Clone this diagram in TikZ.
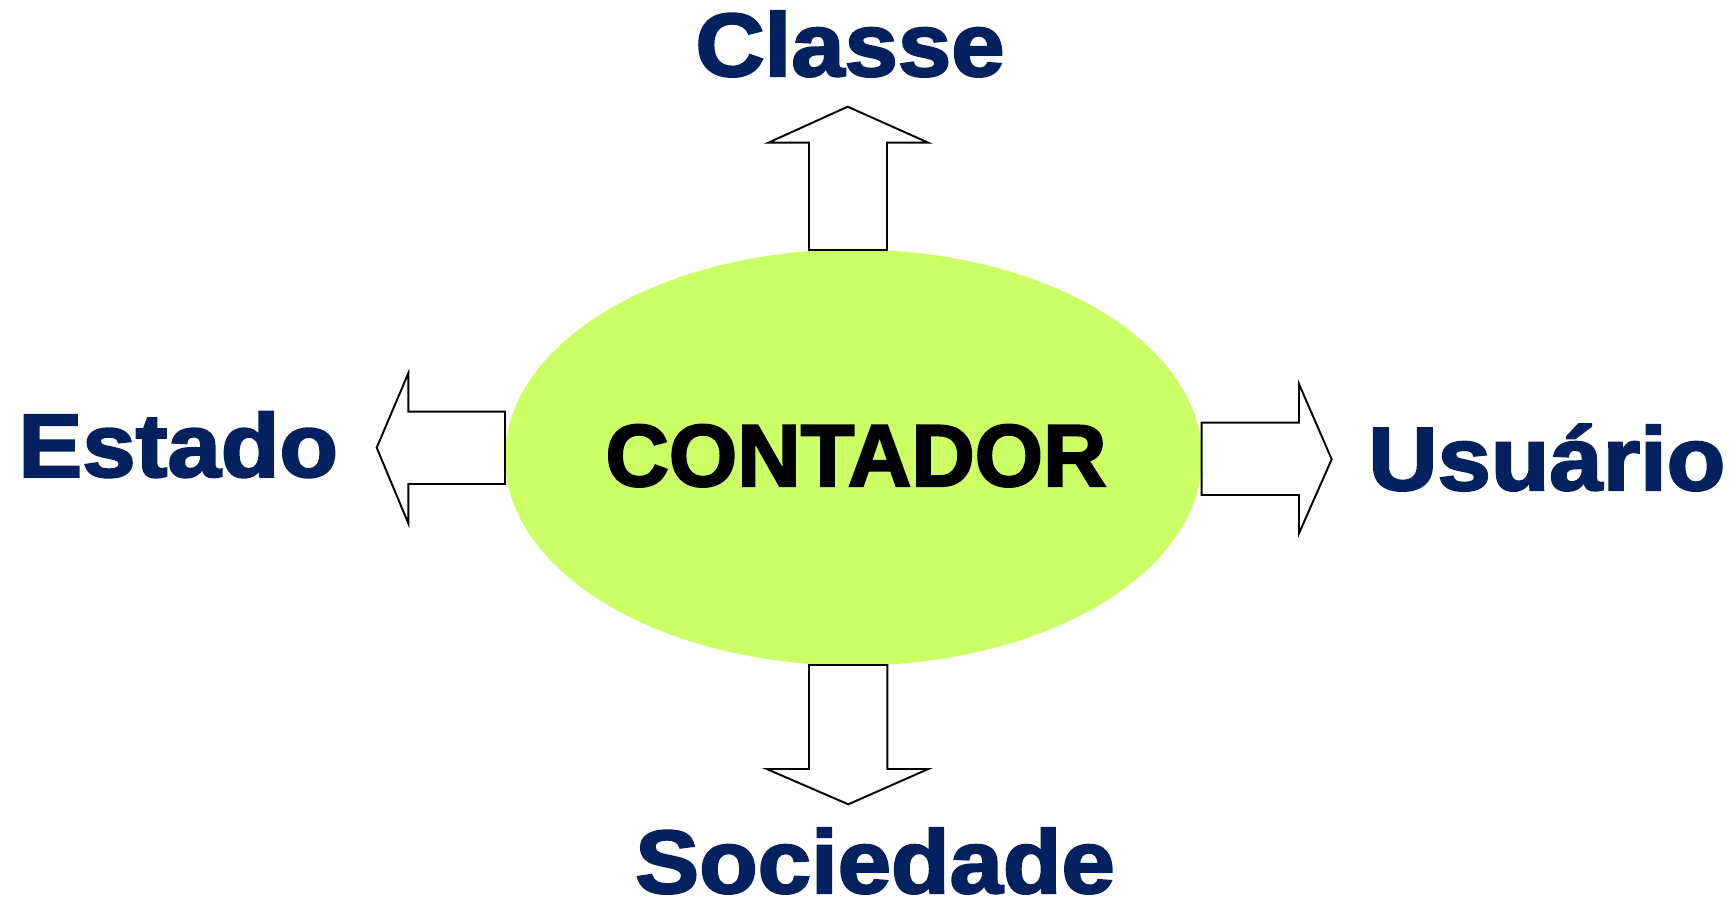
\documentclass[tikz,border=0pt]{standalone}
\usepackage{fontspec}
\newfontfamily\heavy[FakeBold=2.5,FakeStretch=1.07]{Liberation Sans Bold}
\newfontfamily\heavyc[FakeBold=2.5]{Liberation Sans Bold}
\definecolor{navy}{HTML}{03215E}
\definecolor{lime}{HTML}{CCFF66}
\tikzset{
  lbl/.style={inner sep=0pt, anchor=base, text=navy, font=\heavy\fontsize{51}{51}\selectfont},
  blockarrow/.style={draw=black, fill=white, line width=1.1pt, line join=miter},
}
\begin{document}
\begin{tikzpicture}[x=0.02cm,y=-0.02cm]
\useasboundingbox (0,0) rectangle (1729,898);
% central ellipse
\fill[lime] (853.5,457.5) ellipse [x radius=348.5, y radius=208];
\node[inner sep=0pt, anchor=base, font=\heavyc\fontsize{50}{50}\selectfont] (contador) at (856,486) {CONTADOR};
% arrows
\draw[blockarrow] (809,250) -- (809,142.7) -- (768.3,142.7) -- (847.7,106.7) -- (928.3,142.7) -- (887,142.7) -- (887,250) -- cycle;
\draw[blockarrow] (809,665) -- (887.3,665) -- (887.3,769) -- (928.3,769) -- (848.3,804.3) -- (766.7,769) -- (809,769) -- cycle;
\draw[blockarrow] (505,411.7) -- (408.3,411.7) -- (408.3,373.3) -- (376.7,447.7) -- (408.3,523.3) -- (408.3,484) -- (505,484) -- cycle;
\draw[blockarrow] (1201.7,422.7) -- (1299,422.7) -- (1299,384) -- (1331.7,459.3) -- (1299,533.3) -- (1299,495) -- (1201.7,495) -- cycle;
% labels
\node[lbl] (classe) at (850,76) {Classe};
\node[lbl, anchor=base west] (estado) at (18,476.7) {Estado};
\node[lbl, anchor=base west] (usuario) at (1368,490) {Usuário};
\node[lbl] (sociedade) at (875,893) {Sociedade};
\end{tikzpicture}
\end{document}
